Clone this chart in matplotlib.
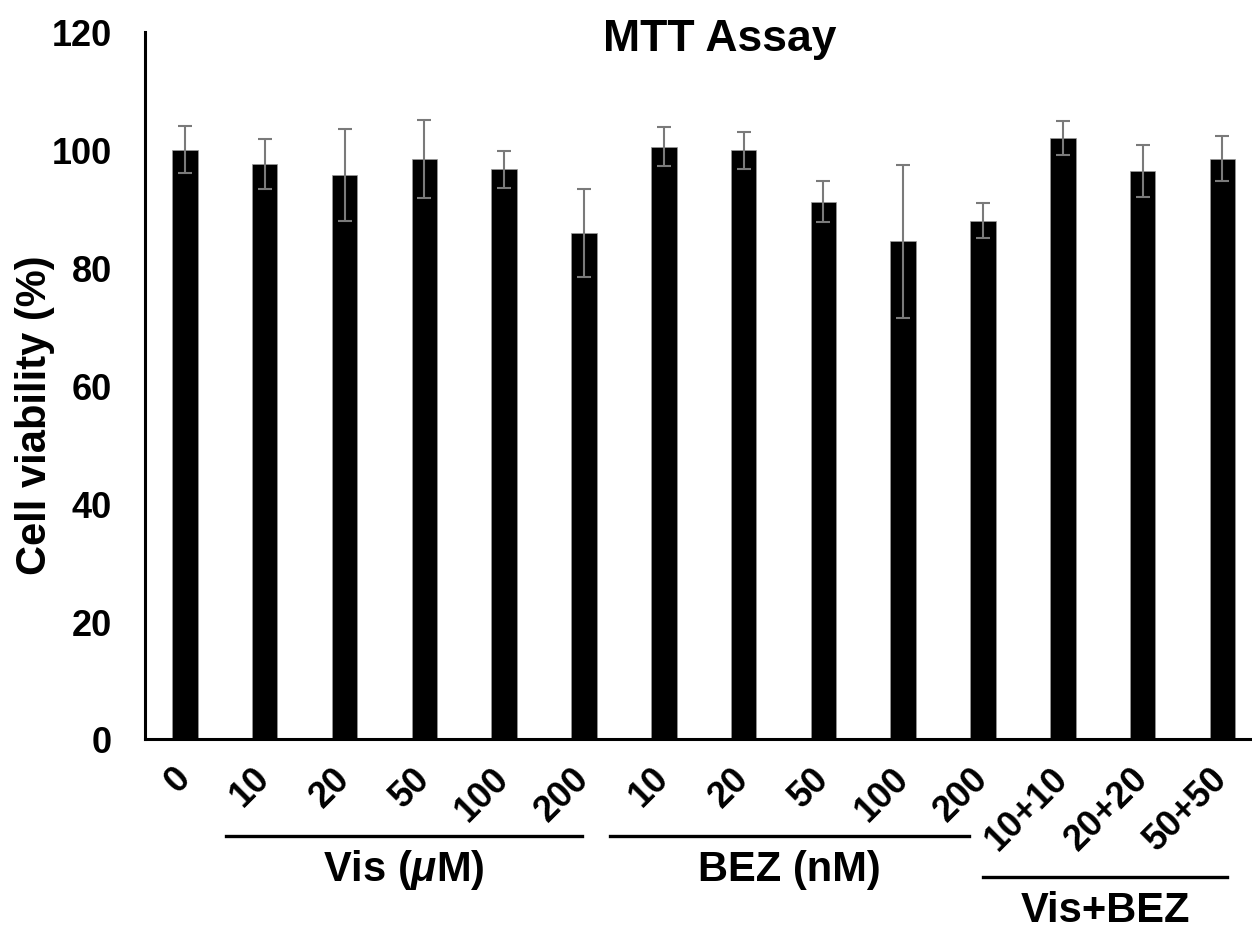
import matplotlib
matplotlib.use("Agg")
import matplotlib.pyplot as plt
import matplotlib.transforms as mtransforms
import numpy as np

# MTT assay values
labels = ["0", "10", "20", "50", "100", "200",
          "10", "20", "50", "100", "200",
          "10+10", "20+20", "50+50"]
viability = [100.0, 97.6, 95.8, 98.5, 96.7, 85.9,
             100.5, 99.9, 91.2, 84.5, 88.0,
             102.0, 96.4, 98.5]
errors = [4.0, 4.2, 7.8, 6.6, 3.1, 7.5,
          3.3, 3.1, 3.5, 13.0, 2.9,
          2.9, 4.4, 3.8]

# group brackets under the axis: (label, line start, line end, line y, text y) in data x / figure y
groups = [
    ("Vis ($\\mu$M)", 0.51, 4.98, 837, 870),
    ("BEZ (nM)", 5.33, 9.83, 837, 870),
    ("Vis+BEZ", 10.0, 13.06, 878, 911),
]

plt.rcParams['font.family'] = ['Liberation Sans', 'DejaVu Sans']
plt.rcParams['font.weight'] = 'bold'
plt.rcParams['mathtext.fontset'] = 'custom'
plt.rcParams['mathtext.rm'] = 'Liberation Sans:bold'
plt.rcParams['mathtext.it'] = 'Liberation Sans:bold:italic'

W, H = 1252, 929
fig = plt.figure(figsize=(W / 100, H / 100), dpi=100)
ax = fig.add_axes([145 / W, 1 - 740 / H, 1 - 145 / W, (740 - 33) / H])

x = np.arange(len(labels))
ax.bar(x, viability, width=0.32, color='black', edgecolor='#9a9a9a', linewidth=0.5,
       yerr=errors, ecolor='#7a7a7a',
       error_kw=dict(elinewidth=1.5, capsize=5, capthick=1.5))

ax.set_ylim(0, 120)
ax.set_yticks(range(0, 121, 20))
ax.set_xlim(-0.5, (W - 185) / 79.8)
ax.set_xticks(x)
ax.set_xticklabels(labels, rotation=45, ha='right', va='center', rotation_mode='anchor')
ax.tick_params(axis='x', length=0, pad=24, labelsize=26)
ax.tick_params(axis='y', length=0, pad=24, labelsize=26)
for lab in ax.get_xticklabels() + ax.get_yticklabels():
    lab.set_fontweight('bold')

ax.spines['top'].set_visible(False)
ax.spines['right'].set_visible(False)
ax.spines['left'].set_linewidth(2.2)
ax.spines['bottom'].set_linewidth(2.2)

fig.text(720 / W, 1 - 40 / H, "MTT Assay", ha='center', va='center',
         fontsize=32, fontweight='bold')
fig.text(35 / W, 1 - 415 / H, "Cell viability (%)", rotation=90, ha='center', va='center',
         fontsize=30, fontweight='bold')

blend = mtransforms.blended_transform_factory(ax.transData, fig.transFigure)
for name, x0, x1, ly, ty in groups:
    ax.plot([x0, x1], [1 - ly / H, 1 - ly / H], color='black', lw=2.4,
            transform=blend, clip_on=False)
    ax.text((x0 + x1) / 2, 1 - ty / H, name, transform=blend, ha='center', va='center',
            fontsize=30, fontweight='bold')

fig.savefig("out.png", dpi=100)
